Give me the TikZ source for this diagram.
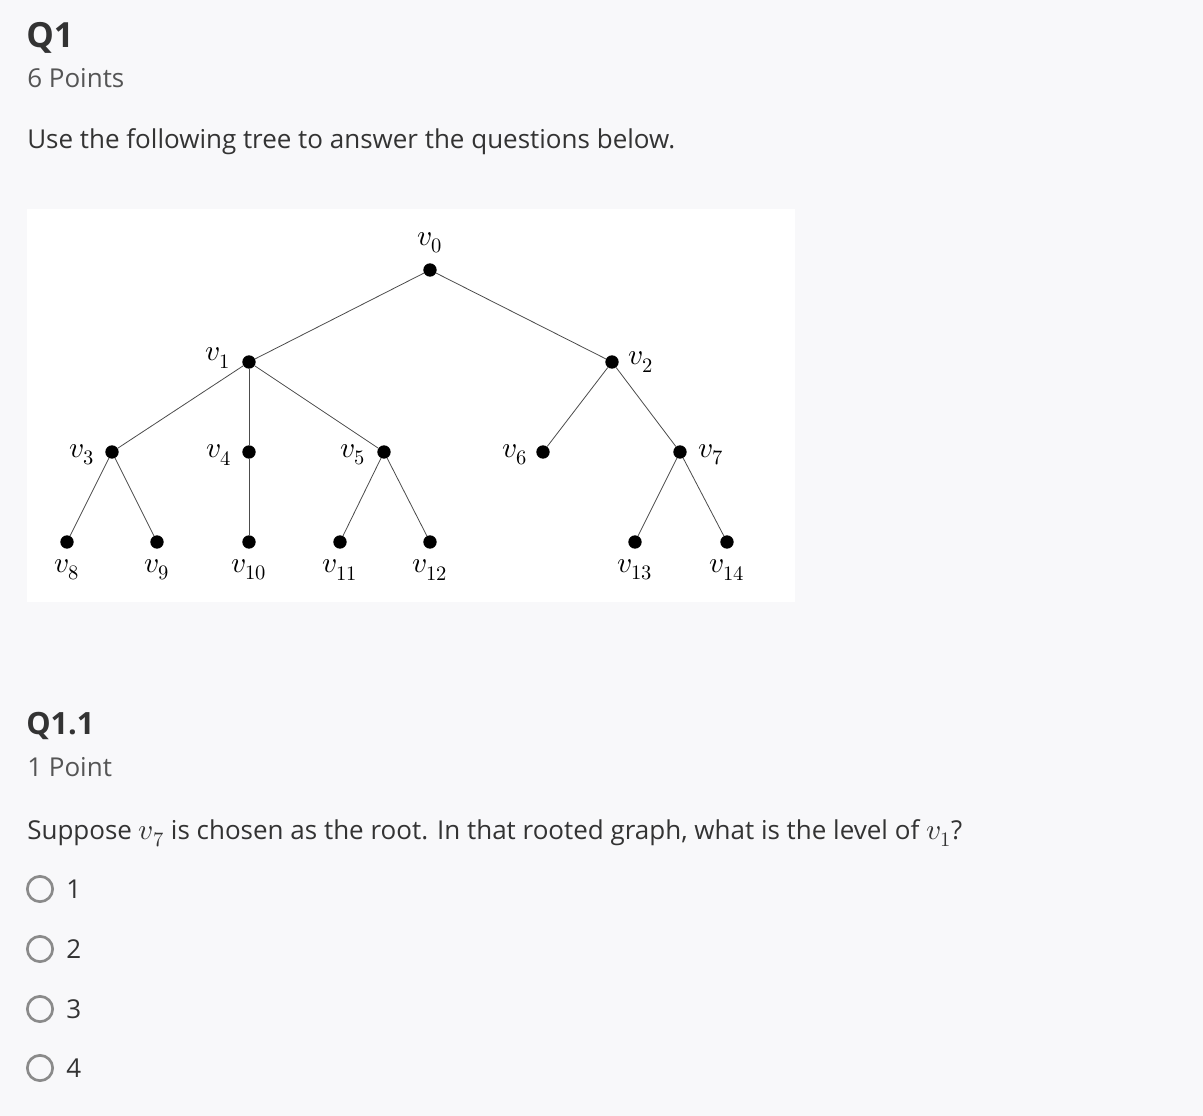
\documentclass[tikz,border=0pt]{standalone}
\usepackage{fontspec}
\setmainfont{Open Sans}
\usepackage{unicode-math}
\setmathfont{Latin Modern Math}
\definecolor{bg}{HTML}{F8F8FA}
\definecolor{txt}{HTML}{333333}
\definecolor{gr}{HTML}{555555}
\definecolor{rad}{HTML}{8A8A8A}
\begin{document}
\begin{tikzpicture}[x=0.75pt,y=-0.75pt,
  dot/.style={circle,fill=black,inner sep=0pt,minimum size=10pt},
  edge/.style={draw=black!70,line width=0.6pt},
  lbl/.style={inner sep=0pt,font=\fontsize{22}{26}\selectfont},
  body/.style={anchor=west,inner sep=0pt,text=txt,font=\fontsize{19.5}{24}\selectfont},
  radio/.style={circle,draw=rad,line width=2pt,minimum size=19pt,inner sep=0pt}]
\fill[bg] (0,0) rectangle (1203,1116);
\useasboundingbox (0,0) rectangle (1203,1116);
\fill[white] (27,209) rectangle (795,602);
\node[anchor=west,inner sep=0pt,text=txt,font=\fontsize{26}{30}\bfseries] (q1) at (26,38) {Q1};
\node[body,text=gr] (p6) at (27,78) {6 Points};
\node[body] (use) at (27,142) {Use the following tree to answer the questions below.};
\foreach \n/\x/\y in {0/430/270,1/249/362,2/612/362,3/112/452,4/249/452,5/384/452,6/543/452,7/680/452,8/67/542,9/157/542,10/249/542,11/340/542,12/430/542,13/635/542,14/727/542}
  \node[dot] (v\n) at (\x,\y) {};
\foreach \a/\b in {0/1,0/2,1/3,1/4,1/5,2/6,2/7,3/8,3/9,4/10,5/11,5/12,7/13,7/14}
  \draw[edge] (v\a) -- (v\b);
\node[lbl] (l0) at (430,243) {$v_0$};
\node[lbl] (l1) at (218,358) {$v_1$};
\node[lbl] (l2) at (641,362) {$v_2$};
\node[lbl] (l3) at (82,455) {$v_3$};
\node[lbl] (l4) at (219,455) {$v_4$};
\node[lbl] (l5) at (353,455) {$v_5$};
\node[lbl] (l6) at (515,455) {$v_6$};
\node[lbl] (l7) at (711,455) {$v_7$};
\foreach \n/\x in {8/67,9/157,10/249,11/340,12/430,13/635,14/727}
  \node[lbl] (l\n) at (\x,570) {$v_{\n}$};
\node[anchor=west,inner sep=0pt,text=txt,font=\fontsize{23}{27}\bfseries] (q11) at (26,726) {Q1.1};
\node[body,text=gr] (p1) at (27,767) {1 Point};
\node[body] (sup) at (27,833) {Suppose {\fontsize{22}{26}\selectfont$v_7$} is chosen as the root. In that rooted graph, what is the level of {\fontsize{22}{26}\selectfont$v_1$}?};
\foreach \i/\y in {1/889,2/949,3/1009,4/1068}{
  \node[radio] (r\i) at (40,\y) {};
  \node[body] (t\i) at (66,\y) {\i};
}
\end{tikzpicture}
\end{document}
